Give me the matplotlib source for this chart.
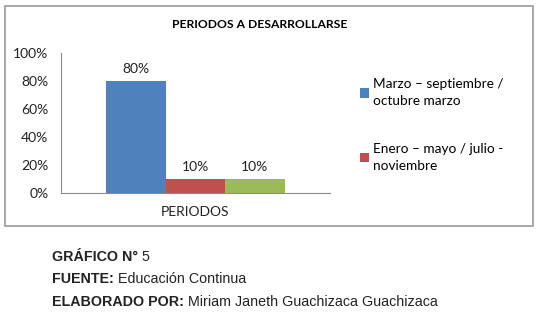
import matplotlib
matplotlib.use("Agg")
import matplotlib.pyplot as plt
from matplotlib.patches import Rectangle
from matplotlib.ticker import PercentFormatter

# datos
categoria = ["PERIODOS"]
series = ["Marzo – septiembre /\noctubre marzo", "Enero – mayo / julio -\nnoviembre", "Otros"]
valores = [0.80, 0.10, 0.10]
etiquetas = ["80%", "10%", "10%"]
colores = ["#4F81BD", "#C0504D", "#9BBB59"]

W, H = 538, 312
fig = plt.figure(figsize=(W / 100, H / 100), dpi=100)
fig.patch.set_facecolor("white")

# marco del grafico
fig.add_artist(Rectangle((4.5 / W, 1 - 226 / H), 528 / W, 220 / H, transform=fig.transFigure,
                         fill=False, edgecolor="#9a9a9a", lw=1.2))

ax = fig.add_axes([61 / W, 1 - 193 / H, 269 / W, 140 / H])
ancho = 0.221
for i, (v, c, lab, txt) in enumerate(zip(valores, colores, series, etiquetas)):
    x = (i - 1) * ancho
    ax.bar(x, v, width=ancho, color=c, label=lab if i < 2 else "_nolegend_")
    ax.text(x, v + 0.045, txt, ha="center", va="bottom", fontsize=10,
            family="Lato", color="#222222")

ax.set_xlim(-0.5, 0.5)
ax.set_ylim(0, 1)
ax.set_yticks([0, 0.2, 0.4, 0.6, 0.8, 1.0])
ax.yaxis.set_major_formatter(PercentFormatter(1.0, decimals=0))
ax.set_xticks([0])
ax.set_xticklabels(categoria)
ax.tick_params(axis="both", length=0, labelsize=10, colors="#222222")
ax.tick_params(axis="y", pad=9)
ax.tick_params(axis="x", pad=9)
for lbl in ax.get_xticklabels() + ax.get_yticklabels():
    lbl.set_family("Lato")
for s in ("top", "right"):
    ax.spines[s].set_visible(False)
for s in ("left", "bottom"):
    ax.spines[s].set_color("#8c8c8c")

fig.text(260 / W, 1 - 25 / H, "PERIODOS A DESARROLLARSE", ha="center", va="center",
         fontsize=8.7, weight="bold", family="Lato")

leg = ax.legend(loc="upper left", bbox_to_anchor=(348 / W, 1 - 66 / H),
                bbox_transform=fig.transFigure, frameon=False,
                prop={"family": "Lato", "size": 9.8}, handlelength=0.65,
                handleheight=0.65, handletextpad=0.3, labelspacing=2.6)
for t in leg.get_texts():
    t.set_linespacing(1.5)

# pie del grafico
pie = [("GRÁFICO N°", " 5", 257), ("FUENTE:", " Educación Continua", 279),
       ("ELABORADO POR:", " Miriam Janeth Guachizaca Guachizaca", 302)]
fig.canvas.draw()
r = fig.canvas.get_renderer()
for neg, resto, y in pie:
    t = fig.text(52 / W, 1 - y / H, neg, ha="left", va="center", fontsize=10.3,
                 weight="bold", family="Liberation Sans", color="#222222")
    bb = t.get_window_extent(r)
    fig.text(bb.x1 / W, 1 - y / H, resto, ha="left", va="center", fontsize=10.3,
             family="Liberation Sans", color="#222222")

fig.savefig("out.png", dpi=100, facecolor="white")
